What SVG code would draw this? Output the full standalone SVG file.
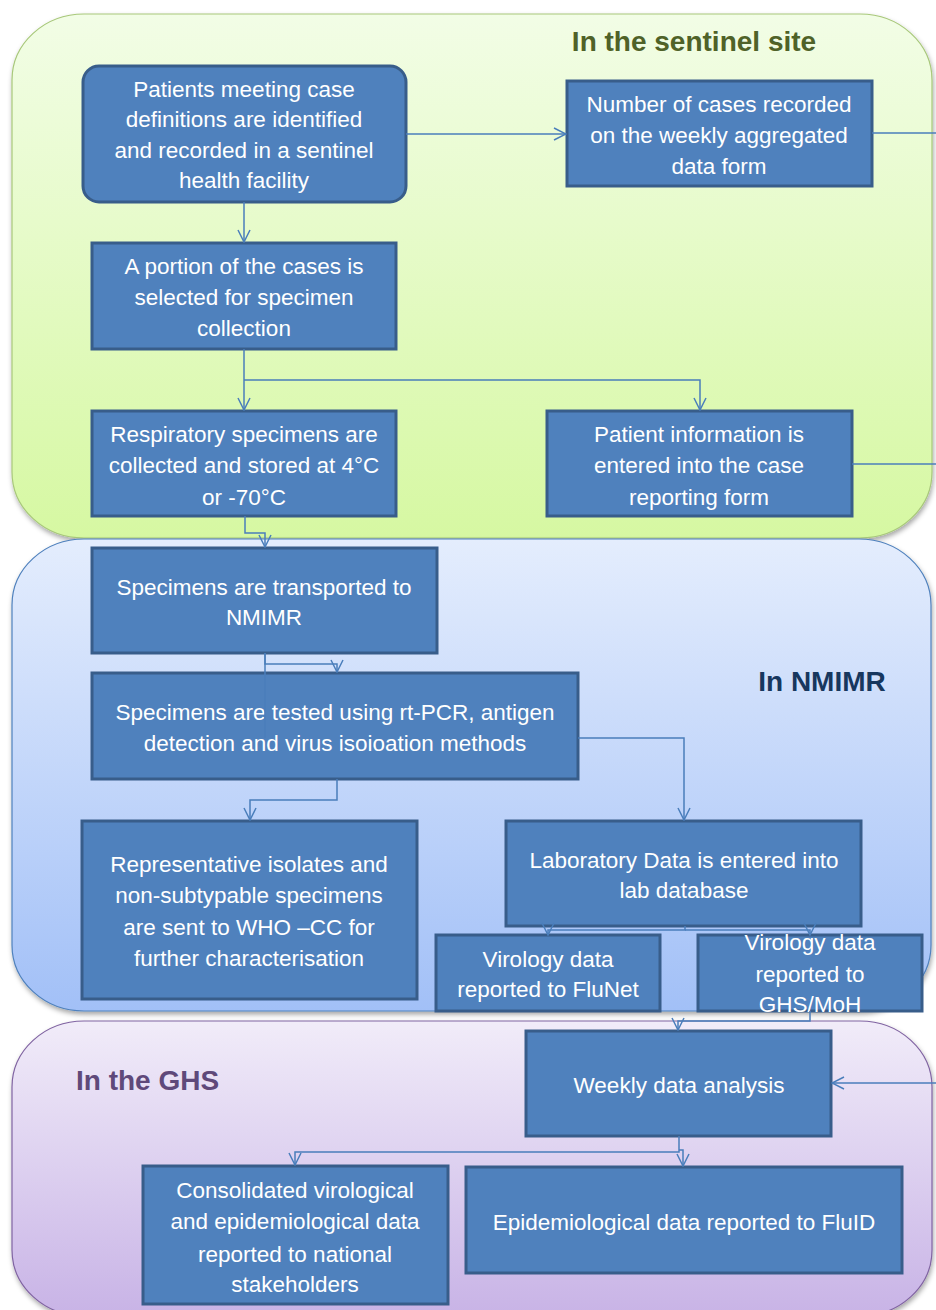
<svg xmlns="http://www.w3.org/2000/svg" width="936" height="1310" viewBox="0 0 936 1310">
<defs>
<linearGradient id="gGreen" x1="0" y1="0" x2="0" y2="1"><stop offset="0" stop-color="#f2fde6"/><stop offset="1" stop-color="#d6f8a2"/></linearGradient>
<linearGradient id="gBlue" x1="0" y1="0" x2="0" y2="1"><stop offset="0" stop-color="#e4edfd"/><stop offset="1" stop-color="#a2c0f7"/></linearGradient>
<linearGradient id="gPurple" x1="0" y1="0" x2="0" y2="1"><stop offset="0" stop-color="#f1ecf9"/><stop offset="1" stop-color="#c8b3e6"/></linearGradient>
<filter id="sh" x="-5%" y="-5%" width="110%" height="115%"><feDropShadow dx="1" dy="3" stdDeviation="2.5" flood-color="#000" flood-opacity="0.35"/></filter>
<marker id="arr" viewBox="0 0 14 14" markerWidth="14" markerHeight="14" refX="13" refY="7" orient="auto" markerUnits="userSpaceOnUse"><path d="M1,1 L13,7 L1,13" fill="none" stroke="#4a7ebb" stroke-width="1.5"/></marker>
</defs>
<style>
.box{fill:#4f81bd;stroke:#385d8a;stroke-width:3}
.t{font-family:"Liberation Sans",Arial,sans-serif;font-size:22.5px;fill:#ffffff;text-anchor:middle}
.title{font-family:"Liberation Sans",Arial,sans-serif;font-size:28px;font-weight:bold}
.c{fill:none;stroke:#4a7ebb;stroke-width:1.5}
.ca{fill:none;stroke:#4a7ebb;stroke-width:1.5;marker-end:url(#arr)}
</style>
<g id="panels">
<rect x="12" y="14" width="920" height="524" rx="72" ry="66" fill="url(#gGreen)" stroke="#a8c87a" stroke-width="1.2" filter="url(#sh)"/>
<rect x="12" y="539" width="919" height="472" rx="72" ry="66" fill="url(#gBlue)" stroke="#4f81bd" stroke-width="1.2" filter="url(#sh)"/>
<rect x="12" y="1021" width="920" height="295" rx="72" ry="66" fill="url(#gPurple)" stroke="#8064a2" stroke-width="1.2" filter="url(#sh)"/>
<text class="title" x="694" y="51" text-anchor="middle" fill="#4f6228">In the sentinel site</text>
<text class="title" x="822" y="691" text-anchor="middle" fill="#17375e">In NMIMR</text>
<text class="title" x="76" y="1090" fill="#5f497a">In the GHS</text>
</g>
<g id="n1"><rect class="box" x="83" y="66" width="323" height="136" rx="16"/>
<text class="t" x="244" y="97">Patients meeting case</text><text class="t" x="244" y="127">definitions are identified</text><text class="t" x="244" y="158">and recorded in a sentinel</text><text class="t" x="244" y="188">health facility</text></g>
<g id="n2"><rect class="box" x="567" y="81" width="305" height="105"/>
<text class="t" x="719" y="112">Number of cases recorded</text><text class="t" x="719" y="143">on the weekly aggregated</text><text class="t" x="719" y="174">data form</text></g>
<g id="n3"><rect class="box" x="92" y="243" width="304" height="106"/>
<text class="t" x="244" y="274">A portion of the cases is</text><text class="t" x="244" y="305">selected for specimen</text><text class="t" x="244" y="336">collection</text></g>
<g id="n4"><rect class="box" x="92" y="411" width="304" height="105"/>
<text class="t" x="244" y="442">Respiratory specimens are</text><text class="t" x="244" y="473">collected and stored at 4°C</text><text class="t" x="244" y="505">or -70°C</text></g>
<g id="n5"><rect class="box" x="547" y="411" width="305" height="105"/>
<text class="t" x="699" y="442">Patient information is</text><text class="t" x="699" y="473">entered into the case</text><text class="t" x="699" y="505">reporting form</text></g>
<g id="n6"><rect class="box" x="92" y="548" width="345" height="105"/>
<text class="t" x="264" y="595">Specimens are transported to</text><text class="t" x="264" y="625">NMIMR</text></g>
<g id="n7"><rect class="box" x="92" y="673" width="486" height="106"/>
<text class="t" x="335" y="720">Specimens are tested using rt-PCR, antigen</text><text class="t" x="335" y="751">detection and virus isoioation methods</text></g>
<g id="n8"><rect class="box" x="82" y="821" width="335" height="178"/>
<text class="t" x="249" y="872">Representative isolates and</text><text class="t" x="249" y="903">non-subtypable specimens</text><text class="t" x="249" y="935">are sent to WHO –CC for</text><text class="t" x="249" y="966">further characterisation</text></g>
<g id="n9"><rect class="box" x="506" y="821" width="355" height="105"/>
<text class="t" x="684" y="868">Laboratory Data is entered into</text><text class="t" x="684" y="898">lab database</text></g>
<g id="n10"><rect class="box" x="436" y="935" width="224" height="76"/>
<text class="t" x="548" y="967">Virology data</text><text class="t" x="548" y="997">reported to FluNet</text></g>
<g id="n11"><rect class="box" x="698" y="935" width="224" height="76"/>
<text class="t" x="810" y="950">Virology data</text><text class="t" x="810" y="982">reported to</text><text class="t" x="810" y="1012">GHS/MoH</text></g>
<g id="n12"><rect class="box" x="526" y="1031" width="305" height="105"/>
<text class="t" x="679" y="1093">Weekly data analysis</text></g>
<g id="n13"><rect class="box" x="143" y="1166" width="305" height="138"/>
<text class="t" x="295" y="1198">Consolidated virological</text><text class="t" x="295" y="1229">and epidemiological data</text><text class="t" x="295" y="1262">reported to national</text><text class="t" x="295" y="1292">stakeholders</text></g>
<g id="n14"><rect class="box" x="466" y="1167" width="436" height="106"/>
<text class="t" x="684" y="1230">Epidemiological data reported to FluID</text></g>
<g id="connectors">
<path class="ca" d="M406,134 H566"/>
<path class="c" d="M872,133 H936"/>
<path class="c" d="M852,464 H936"/>
<path class="ca" d="M936,1083 H832"/>
<path class="ca" d="M244,202 V242"/>
<path class="ca" d="M244,349 V410"/>
<path class="ca" d="M244,380 H700 V410"/>
<path class="ca" d="M245,516 V533 H265 V547"/>
<path class="ca" d="M265,653 V664 H337 V672"/>
<path class="c" d="M265,653 V738"/>
<path class="ca" d="M578,738 H684 V820"/>
<path class="ca" d="M337,779 V800 H250 V820"/>
<path class="ca" d="M685,926 V930 H548 V935"/>
<path class="ca" d="M685,930 H810 V935"/>
<path class="ca" d="M810,1011 V1021 H678 V1030"/>
<path class="ca" d="M679,1136 V1152 H295 V1165"/>
<path class="ca" d="M679,1150 H683 V1166"/>
</g>
</svg>
